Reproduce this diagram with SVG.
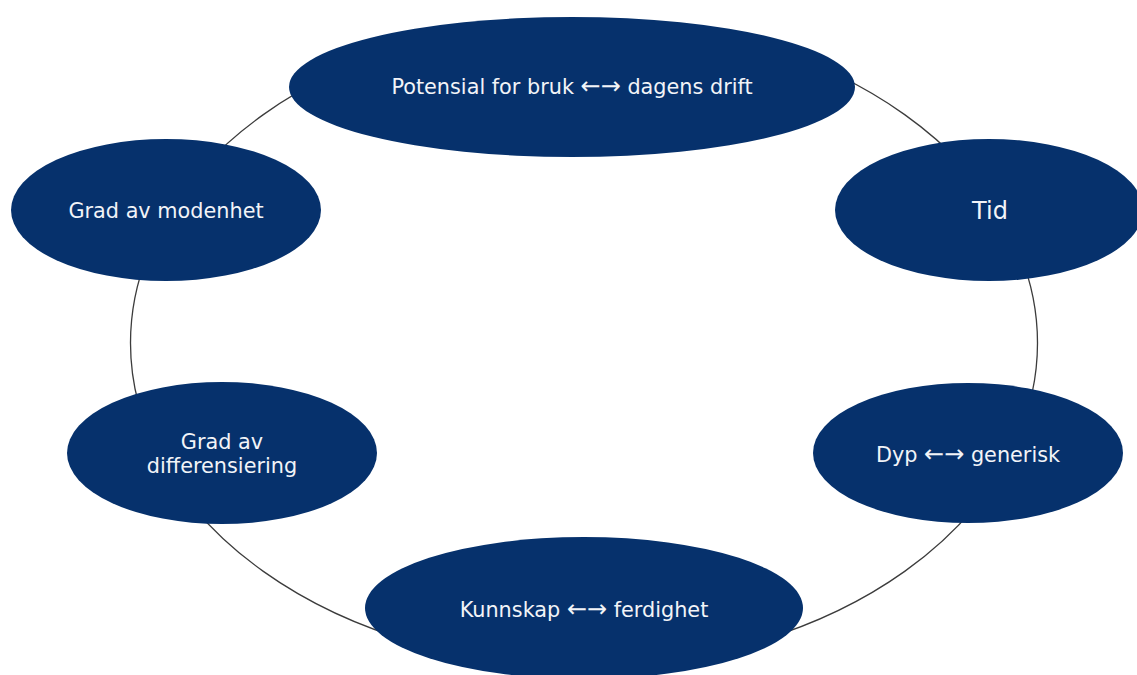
<svg xmlns="http://www.w3.org/2000/svg" width="1137" height="675" viewBox="0 0 1137 675">
<style>
.node{fill:#06316c;}
.lbl{font-family:"DejaVu Sans",Verdana,sans-serif;font-size:20.8px;fill:#f2f4f8;text-anchor:middle;}
.big{font-size:24px;}
.arr{font-size:24px;}
.ring{fill:none;stroke:#3c3c3c;stroke-width:1.3;}
</style>
<rect width="1137" height="675" fill="#ffffff"/>
<g id="connectors">
<ellipse class="ring" cx="584" cy="343" rx="453.5" ry="323"/>
</g>
<g id="node-potensial">
<ellipse class="node" cx="572" cy="87" rx="283" ry="70"/>
<text class="lbl" x="572" y="94">Potensial for bruk <tspan class="arr">←→</tspan> dagens drift</text>
</g>
<g id="node-tid">
<ellipse class="node" cx="989" cy="210" rx="154" ry="71"/>
<text class="lbl big" x="990" y="219">Tid</text>
</g>
<g id="node-dyp">
<ellipse class="node" cx="968" cy="453" rx="155" ry="70"/>
<text class="lbl" x="968" y="462">Dyp <tspan class="arr">←→</tspan> generisk</text>
</g>
<g id="node-kunnskap">
<ellipse class="node" cx="584" cy="608" rx="219" ry="71"/>
<text class="lbl" x="584" y="617">Kunnskap <tspan class="arr">←→</tspan> ferdighet</text>
</g>
<g id="node-differensiering">
<ellipse class="node" cx="222" cy="453" rx="155" ry="71"/>
<text class="lbl" x="222" y="449">Grad av</text>
<text class="lbl" x="222" y="473">differensiering</text>
</g>
<g id="node-modenhet">
<ellipse class="node" cx="166" cy="210" rx="155" ry="71"/>
<text class="lbl" x="166" y="218">Grad av modenhet</text>
</g>
</svg>
